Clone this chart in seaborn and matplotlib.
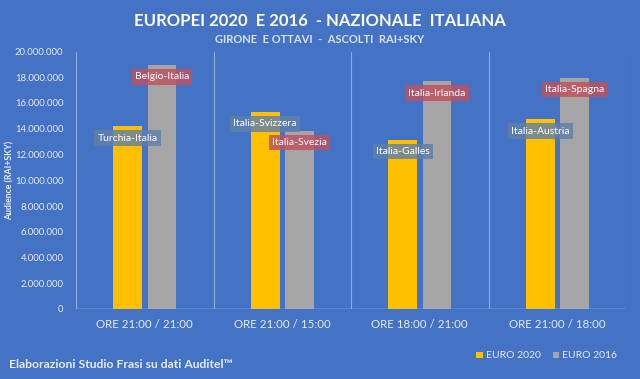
import seaborn as sns
import pandas as pd
import numpy as np
from matplotlib import pyplot as plt
from matplotlib.ticker import FuncFormatter

# valori (ascolti Rai+Sky)
fasce = ['ORE 21:00 / 21:00', 'ORE 21:00 / 15:00', 'ORE 18:00 / 21:00', 'ORE 21:00 / 18:00']
euro2020 = [14200000, 15300000, 13150000, 14750000]
euro2016 = [18950000, 13850000, 17700000, 17950000]
partite2020 = ['Turchia-Italia', 'Italia-Svizzera', 'Italia-Galles', 'Italia-Austria']
partite2016 = ['Belgio-Italia', 'Italia-Svezia', 'Italia-Irlanda', 'Italia-Spagna']

df = pd.DataFrame({
    'Fascia': fasce * 2,
    'Torneo': ['EURO 2020'] * 4 + ['EURO 2016'] * 4,
    'Audience': euro2020 + euro2016,
})

bg = '#4472C4'
txt = '#E6ECF6'
fs = 7.5

sns.set_theme(style='white')
plt.rcParams['font.family'] = ['Lato', 'DejaVu Sans']

fig = plt.figure(figsize=(6.4, 3.79), dpi=100, facecolor=bg)
ax = fig.add_axes([76 / 640, 1 - 309 / 379, 550 / 640, 257.5 / 379])
ax.set_facecolor(bg)

sns.barplot(data=df, x='Fascia', y='Audience', hue='Torneo',
            palette={'EURO 2020': '#FFC000', 'EURO 2016': '#A5A5A5'},
            width=0.5, gap=0.16, saturation=1, linewidth=0, ax=ax, legend=True)

ax.set_xlim(-0.5, 3.5)
ax.set_ylim(0, 20000000)
ax.set_yticks(np.arange(0, 20000001, 2000000))
ax.yaxis.set_major_formatter(FuncFormatter(lambda v, p: f'{int(v):,}'.replace(',', '.')))

for s in ax.spines.values():
    s.set_visible(False)
for xv in np.arange(-0.5, 4, 1):
    ax.axvline(xv, color='#8FAADC', lw=0.8, zorder=0)
ax.axhline(0, color='#B4C7E7', lw=1.0, zorder=3)

ax.tick_params(axis='y', colors=txt, labelsize=6.8, length=0, pad=9)
ax.tick_params(axis='x', colors=txt, labelsize=8.3, length=0, pad=7)
ax.set_xlabel('')
ax.set_ylabel('Audience (RAI+SKY)', color=txt, fontsize=6.3, fontweight='bold')
ax.yaxis.set_label_coords(-0.112, 0.5)

# etichette delle partite
box_colors = ['#6080A8', '#C0505F']
for cont, nomi, col in zip(ax.containers, [partite2020, partite2016], box_colors):
    for bar, nome in zip(cont, nomi):
        ax.annotate(nome, (bar.get_x() + bar.get_width() / 2, bar.get_height()),
                    xytext=(0, -8.6), textcoords='offset points',
                    ha='center', va='center', fontsize=fs, color='white', zorder=5,
                    bbox=dict(boxstyle='square,pad=0.3', fc=col, ec='none', alpha=0.82))

leg = ax.legend(loc='center left', bbox_to_anchor=(467 / 640, 1 - 356 / 379),
                bbox_transform=fig.transFigure, ncol=2, frameon=False,
                fontsize=fs, handlelength=0.6, handleheight=0.6,
                handletextpad=0.3, columnspacing=1.2, labelcolor=txt)

fig.text(0.5, 1 - 20.5 / 379, 'EUROPEI 2020  E 2016  - NAZIONALE  ITALIANA',
         ha='center', va='center', fontsize=12, fontweight='bold', color='white')
fig.text(0.5, 1 - 39.5 / 379, 'GIRONE  E OTTAVI  -  ASCOLTI  RAI+SKY',
         ha='center', va='center', fontsize=8, fontweight='bold', color='#D9E1F2')
fig.text(9 / 640, 1 - 364 / 379, 'Elaborazioni Studio Frasi su dati Auditel™',
         ha='left', va='center', fontsize=8.7, fontweight='bold', color=txt)

fig.savefig('out.png', dpi=100, facecolor=bg)
